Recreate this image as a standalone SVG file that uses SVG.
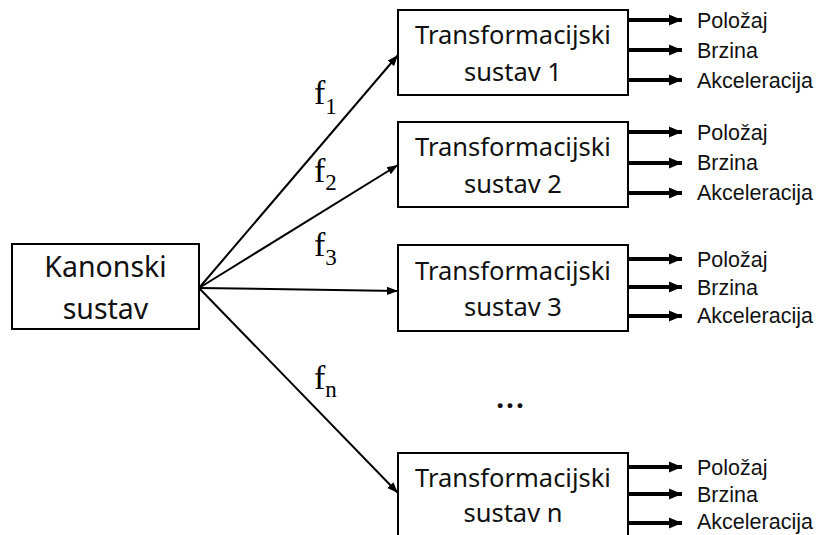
<svg xmlns="http://www.w3.org/2000/svg" width="825" height="535" viewBox="0 0 825 535">
<defs>
<marker id="thin" markerUnits="userSpaceOnUse" markerWidth="12" markerHeight="10" refX="11" refY="5" orient="auto"><path d="M0,0.8 L11,5 L0,9.2 Z" fill="#000"/></marker>
<marker id="thick" markerUnits="userSpaceOnUse" markerWidth="14" markerHeight="12" refX="13" refY="6" orient="auto"><path d="M0,0.5 L13,6 L0,11.5 Z" fill="#000"/></marker>
</defs>
<style>
.box{fill:#fff;stroke:#000;stroke-width:2}
.t{font-family:"Noto Sans","Open Sans",sans-serif;fill:#111;text-anchor:middle}
.big{font-size:25.5px}
.lab{font-family:"Liberation Sans","Arial",sans-serif;font-size:21.5px;fill:#111}
.f{font-family:"Liberation Serif","DejaVu Serif",serif;fill:#000;font-size:34px}
.sub{font-size:23px}
.conn{stroke:#000;stroke-width:2;fill:none;marker-end:url(#thin)}
.out{stroke:#000;stroke-width:4;fill:none;marker-end:url(#thick)}
</style>
<rect width="825" height="535" fill="#fff"/>
<g id="connectors">
<line class="conn" x1="199" y1="288" x2="398" y2="55"/>
<line class="conn" x1="199" y1="288" x2="398" y2="165"/>
<line class="conn" x1="199" y1="288" x2="398" y2="291"/>
<line class="conn" x1="199" y1="288" x2="398" y2="493"/>
<line class="out" x1="628" y1="20" x2="682" y2="20"/>
<line class="out" x1="628" y1="50" x2="682" y2="50"/>
<line class="out" x1="628" y1="80" x2="682" y2="80"/>
<line class="out" x1="628" y1="132" x2="682" y2="132"/>
<line class="out" x1="628" y1="163" x2="682" y2="163"/>
<line class="out" x1="628" y1="193" x2="682" y2="193"/>
<line class="out" x1="628" y1="259" x2="682" y2="259"/>
<line class="out" x1="628" y1="287" x2="682" y2="287"/>
<line class="out" x1="628" y1="316" x2="682" y2="316"/>
<line class="out" x1="628" y1="467" x2="682" y2="467"/>
<line class="out" x1="628" y1="494" x2="682" y2="494"/>
<line class="out" x1="628" y1="523" x2="682" y2="523"/>
</g>
<g id="edge-labels">
<text class="f" x="314" y="104">f<tspan class="sub" dy="10">1</tspan></text>
<text class="f" x="314" y="182">f<tspan class="sub" dy="8">2</tspan></text>
<text class="f" x="314" y="256">f<tspan class="sub" dy="9">3</tspan></text>
<text class="f" x="314" y="389">f<tspan class="sub" dy="8">n</tspan></text>
</g>
<g id="kanonski">
<rect class="box" x="12" y="244" width="187" height="85"/>
<text class="t" x="105.5" y="277" font-size="28.5">Kanonski</text>
<text class="t" x="105.5" y="319" font-size="28.5">sustav</text>
</g>
<g id="sustav1">
<rect class="box" x="398" y="10" width="230" height="85"/>
<text class="t big" x="513" y="44">Transformacijski</text>
<text class="t big" x="513" y="81">sustav 1</text>
<text class="lab" x="697" y="28">Položaj</text>
<text class="lab" x="697" y="58">Brzina</text>
<text class="lab" x="697" y="88">Akceleracija</text>
</g>
<g id="sustav2">
<rect class="box" x="398" y="122" width="230" height="85"/>
<text class="t big" x="513" y="156">Transformacijski</text>
<text class="t big" x="513" y="193">sustav 2</text>
<text class="lab" x="697" y="140">Položaj</text>
<text class="lab" x="697" y="170">Brzina</text>
<text class="lab" x="697" y="200">Akceleracija</text>
</g>
<g id="sustav3">
<rect class="box" x="398" y="245" width="230" height="86"/>
<text class="t big" x="513" y="280">Transformacijski</text>
<text class="t big" x="513" y="316">sustav 3</text>
<text class="lab" x="697" y="267">Položaj</text>
<text class="lab" x="697" y="295">Brzina</text>
<text class="lab" x="697" y="323">Akceleracija</text>
</g>
<g id="ellipsis">
<text class="t" x="511" y="408" font-size="28" font-weight="bold" letter-spacing="2">...</text>
</g>
<g id="sustavn">
<rect class="box" x="398" y="453" width="230" height="86"/>
<text class="t big" x="513" y="487">Transformacijski</text>
<text class="t big" x="513" y="522">sustav n</text>
<text class="lab" x="697" y="475">Položaj</text>
<text class="lab" x="697" y="502">Brzina</text>
<text class="lab" x="697" y="529">Akceleracija</text>
</g>
</svg>
